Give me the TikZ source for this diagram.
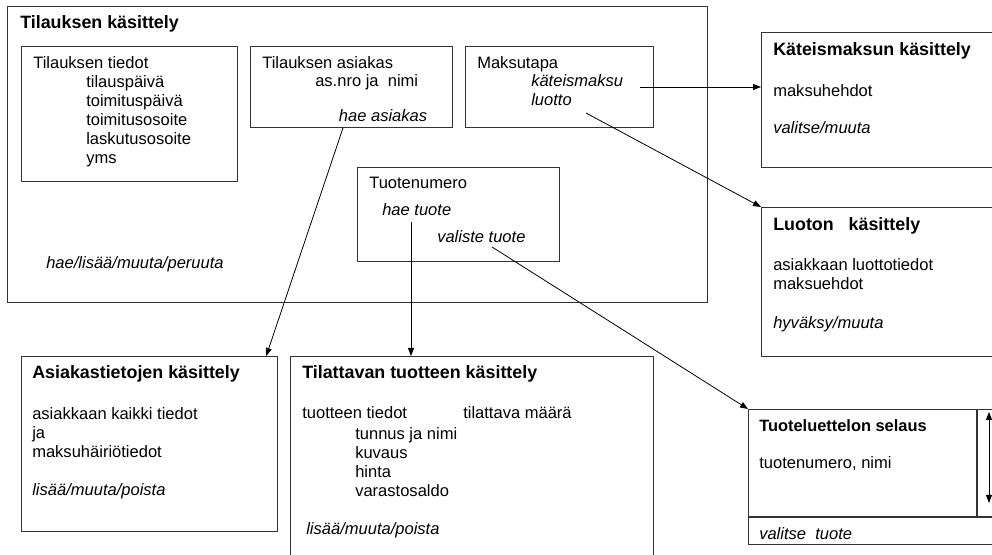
\documentclass[tikz,border=0pt]{standalone}
\usepackage{fontspec}
\setmainfont{Liberation Sans}
\usetikzlibrary{arrows.meta,positioning}

\begin{document}
\begin{tikzpicture}[
    x=0.75pt, y=-0.75pt,
    box/.style={draw=black!80, line width=0.9pt, rectangle, anchor=north west, inner sep=0pt},
    txt/.style={anchor=base west, inner sep=0pt, align=left,
                font=\fontsize{12.4}{14.4}\selectfont},
    act/.style={txt, font=\fontsize{12.4}{14.4}\selectfont\itshape},
    head/.style={anchor=base west, inner sep=0pt, font=\fontsize{13.4}{16}\selectfont\bfseries},
    arrow/.style={-{Triangle[length=6pt,width=4.5pt]}, line width=0.6pt},
  ]
  \useasboundingbox (0,0) rectangle (992,555);
  \clip (0,0) rectangle (992,555);

  % tilauksen kasittely (multi-line nodes sit on their last baseline)
  \node[box, minimum width=525pt, minimum height=222pt] (ord) at (7,6) {};
  \node[head] (ordt) at (20,29) {Tilauksen käsittely};

  \node[box, minimum width=162pt, minimum height=101.25pt] (tied) at (21,46) {};
  \node[txt] (tiedt) at (33,69) {Tilauksen tiedot};
  \node[txt] (tiedl) at (86,164) {tilauspäivä\\toimituspäivä\\toimitusosoite\\laskutusosoite\\yms};

  \node[box, minimum width=151.5pt, minimum height=60.75pt] (asi) at (250,46) {};
  \node[txt] (asit) at (262,69) {Tilauksen asiakas};
  \node[txt] (asin) at (315,87) {as.nro ja\ \ nimi};
  \node[act, fill=white, inner xsep=8pt, inner ysep=4pt] (haeas) at (328,122) {hae asiakas};

  \node[box, minimum width=141pt, minimum height=60.75pt] (mak) at (465,46) {};
  \node[txt] (makt) at (477,69) {Maksutapa};
  \node[act] (kat) at (531,106) {käteismaksu\\luotto};

  \node[box, minimum width=151.5pt, minimum height=70.5pt] (tnro) at (357,167) {};
  \node[txt] (tnrot) at (369,189) {Tuotenumero};
  \node[act] (haetu) at (382,216) {hae tuote};
  \node[act] (valtu) at (437,243) {valiste tuote};

  \node[act] (ordf) at (46,269) {hae/lisää/muuta/peruuta};

  % oikea puoli
  \node[box, minimum width=180pt, minimum height=101.25pt] (kbox) at (761,32) {};
  \node[head] (kboxt) at (773,56) {Käteismaksun käsittely};
  \node[txt] (kboxa) at (773,97) {maksuhehdot};
  \node[act] (kboxf) at (773,134) {valitse/muuta};

  \node[box, minimum width=180pt, minimum height=111.75pt] (lbox) at (761,207) {};
  \node[head] (lboxt) at (773,231) {Luoton\ \ \ käsittely};
  \node[txt] (lboxa) at (773,290) {asiakkaan luottotiedot\\maksuehdot};
  \node[act] (lboxf) at (773,329) {hyväksy/muuta};

  \node[box, minimum width=190pt, minimum height=101.25pt] (sbox) at (748,409) {};
  \draw[draw=black!80, line width=0.9pt] (977,409) -- (977,517);
  \draw[draw=black!80, line width=0.9pt] (748,517) -- (1000,517);
  \node[head, font=\fontsize{12.3}{15}\selectfont\bfseries] (sboxt) at (759,432) {Tuoteluettelon selaus};
  \node[txt] (sboxa) at (759,469) {tuotenumero, nimi};
  \node[act] (sboxf) at (759,539) {valitse\ \ tuote};

  % alarivi
  \node[box, minimum width=192pt, minimum height=131.25pt] (abox) at (21,356) {};
  \node[head] (aboxt) at (32,379) {Asiakastietojen käsittely};
  \node[txt] (aboxa) at (32,458) {asiakkaan kaikki tiedot\\ja\\maksuhäiriötiedot};
  \node[act] (aboxf) at (32,495) {lisää/muuta/poista};

  \node[box, minimum width=272.25pt, minimum height=165pt] (tbox) at (290,356) {};
  \node[head] (tboxt) at (302,379) {Tilattavan tuotteen käsittely};
  \node[txt] (tboxa) at (302,419) {tuotteen tiedot};
  \node[txt] (tboxm) at (463,419) {tilattava määrä};
  \node[txt] (tboxl) at (355,497) {tunnus ja nimi\\kuvaus\\hinta\\varastosaldo};
  \node[act] (tboxf) at (306,534) {lisää/muuta/poista};

  % yhteydet
  \coordinate (c1) at (343,128);
  \coordinate (c2) at (411,222);
  \coordinate (c3) at (640,87);
  \coordinate (c4) at (586,113);
  \coordinate (c5) at (492,247);
  \coordinate (s1) at (989,412);
  \coordinate (s2) at (989,503);

  \draw[arrow] (c1) -- ([xshift=-9pt]abox.north east);
  \draw[arrow] (c2) -- (c2 |- tbox.north);
  \draw[arrow] (c3) -- (c3 -| kbox.west);
  \draw[arrow] (c4) -- (lbox.north west);
  \draw[arrow] (c5) -- (sbox.north west);
  \draw[{Triangle[length=6pt,width=4.5pt]}-{Triangle[length=6pt,width=4.5pt]}, line width=0.6pt] (s1) -- (s2);
\end{tikzpicture}
\end{document}
